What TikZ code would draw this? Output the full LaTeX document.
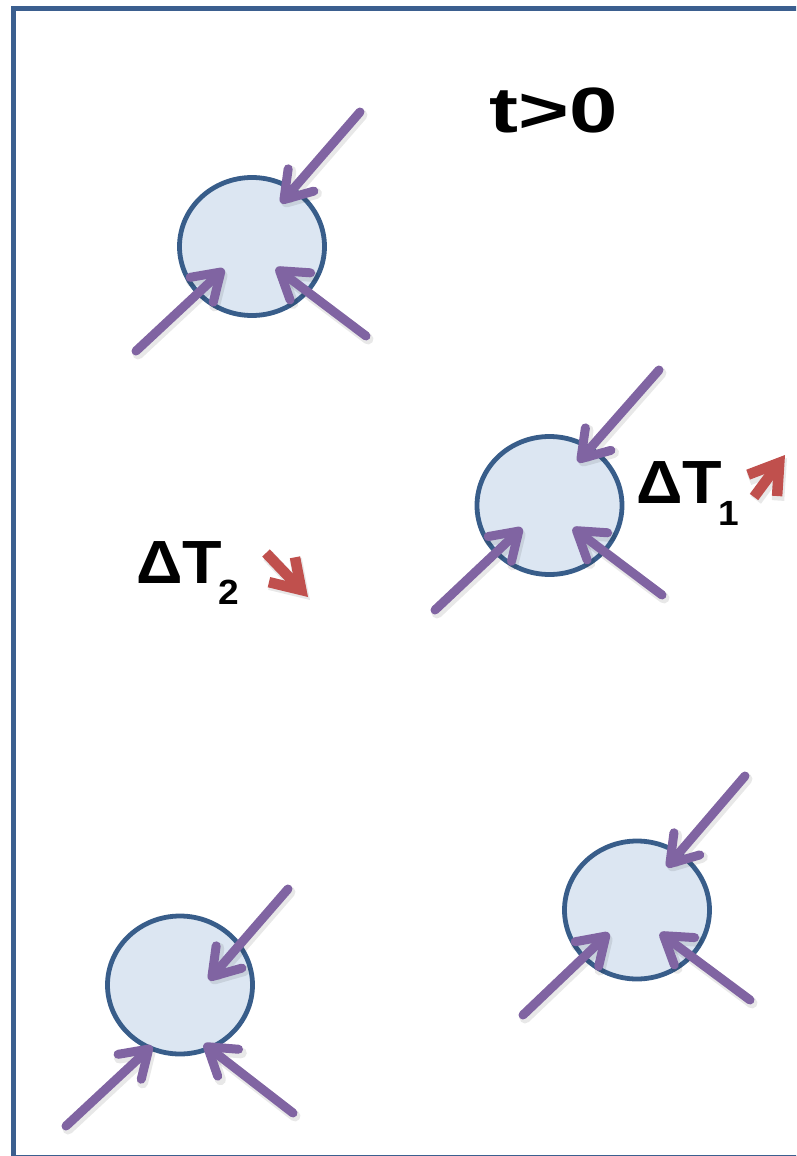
\documentclass[tikz,border=0pt]{standalone}
\usepackage{fontspec}
\setmainfont{Liberation Sans}
\usetikzlibrary{arrows.meta,shapes.geometric}

\definecolor{framecol}{RGB}{59,95,143}
\definecolor{ringcol}{RGB}{56,93,138}
\definecolor{cellfill}{RGB}{220,230,242}
\definecolor{flux}{RGB}{128,100,162}
\definecolor{heat}{RGB}{192,80,77}

\tikzset{
  frameline/.style={draw=framecol, line width=5pt},
  cell/.style={ellipse, draw=ringcol, fill=cellfill, line width=4.8pt,
    minimum width=145pt, minimum height=138pt, inner sep=0pt},
  fluxarrow/.style={draw=flux, line width=9pt, line cap=round,
    -{Straight Barb[length=26pt, width=34pt, round]}},
  fluxshadow/.style={draw=black, opacity=0.09, line width=11pt, line cap=round,
    -{Straight Barb[length=26pt, width=34pt, round]}},
  heatarrow/.style={draw=heat, line width=10.5pt,
    -{Straight Barb[length=28pt, width=36pt]}},
  heatshadow/.style={draw=black, opacity=0.09, line width=12.5pt,
    -{Straight Barb[length=28pt, width=36pt]}},
  lbl/.style={anchor=base west, inner sep=0pt, font=\bfseries}
}

\newcommand{\bigsize}{\fontsize{61}{61}\selectfont}
\newcommand{\subsize}{\fontsize{35}{35}\selectfont}

\begin{document}
\begin{tikzpicture}[x=1pt, y=-1pt]
\useasboundingbox (0,0) rectangle (796,1156);
\clip (0,0) rectangle (796,1156);

% frame
\draw[frameline] (13.5,8.5) rectangle (820,1157.5);

% particles
\node[cell] (c1) at (252,246.5) {};
\node[cell] (c2) at (549.5,505.5) {};
\node[cell] (c3) at (180,985) {};
\node[cell] (c4) at (637,910) {};

% end points of the inflow arrows
\coordinate (a1s) at (360,112);  \coordinate (a1e) at (281,203);
\coordinate (b1s) at (136,351);  \coordinate (b1e) at (224,269);
\coordinate (d1s) at (366,336);  \coordinate (d1e) at (276,268);

\coordinate (a2s) at (659,370);  \coordinate (a2e) at (578,462);
\coordinate (b2s) at (435,610);  \coordinate (b2e) at (522,528);
\coordinate (d2s) at (662,595);  \coordinate (d2e) at (573,528);

\coordinate (a3s) at (288,889);  \coordinate (a3e) at (209,980);
\coordinate (b3s) at (66,1126);  \coordinate (b3e) at (152,1046);
\coordinate (d3s) at (293,1113); \coordinate (d3e) at (204,1044);

\coordinate (a4s) at (745,776);  \coordinate (a4e) at (667,867);
\coordinate (b4s) at (523,1015); \coordinate (b4e) at (609,933);
\coordinate (d4s) at (750,1000); \coordinate (d4e) at (660,933);

\foreach \s/\e in {a1s/a1e,b1s/b1e,d1s/d1e,a2s/a2e,b2s/b2e,d2s/d2e,
                   a3s/a3e,b3s/b3e,d3s/d3e,a4s/a4e,b4s/b4e,d4s/d4e}{
  \draw[fluxshadow] ([shift={(2,3)}]\s) -- ([shift={(2,3)}]\e);
  \draw[fluxarrow] (\s) -- (\e);
}

% temperature change arrows
\coordinate (r2s) at (266,553); \coordinate (r2e) at (308,597);
\coordinate (r1s) at (754,497); \coordinate (r1e) at (785,455);
\draw[heatshadow] ([shift={(2,3)}]r2s) -- ([shift={(2,3)}]r2e);
\draw[heatarrow] (r2s) -- (r2e);
\draw[heatshadow] ([shift={(2,3)}]r1s) -- ([shift={(2,3)}]r1e);
\draw[heatarrow] (r1s) -- (r1e);

% labels
\node[lbl] (title) at (489,132)
  {\scalebox{1.36}[1]{\fontsize{64}{64}\selectfont t>0}};
\node[lbl] (dt1) at (636,503)
  {\scalebox{1.06}[1]{\bigsize ΔT\kern-3pt\raisebox{-22pt}{\subsize 1}}};
\node[lbl] (dt2) at (136,583)
  {\scalebox{1.06}[1]{\bigsize ΔT\kern-3pt\raisebox{-21pt}{\subsize 2}}};
\end{tikzpicture}
\end{document}
